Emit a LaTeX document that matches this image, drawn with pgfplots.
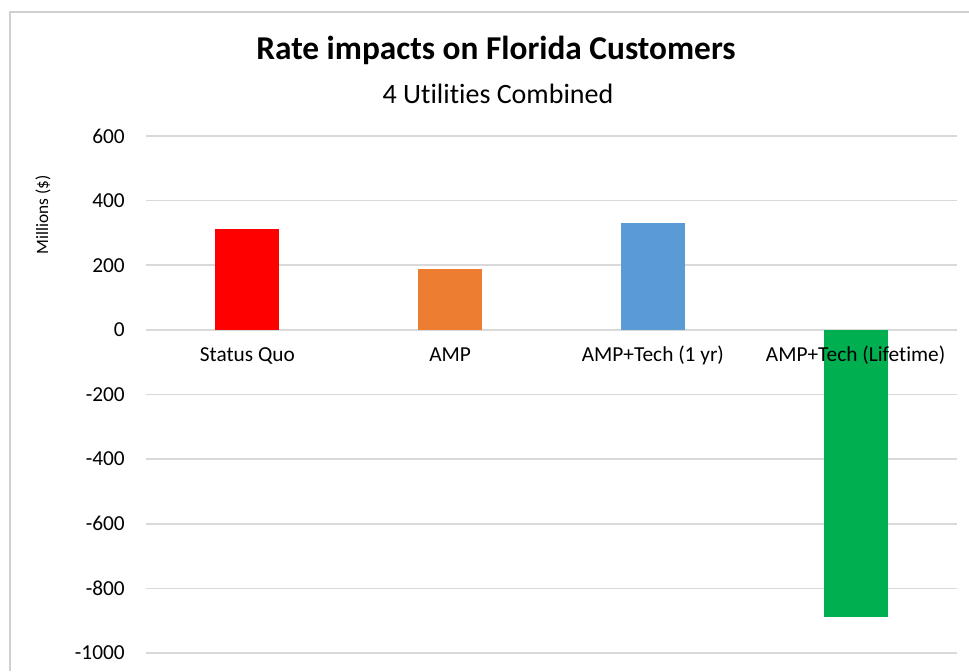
\documentclass[border=0pt]{standalone}
\usepackage{pgfplots}
\pgfplotsset{compat=1.18}
\usepackage{fontspec}
\setmainfont[RawFeature={-liga;-clig;-calt;-dlig}]{Carlito}
\definecolor{gridc}{HTML}{D9D9D9}
\definecolor{framec}{HTML}{D0D0D0}
\definecolor{cred}{HTML}{FF0000}
\definecolor{corange}{HTML}{ED7D31}
\definecolor{cblue}{HTML}{5B9BD5}
\definecolor{cgreen}{HTML}{00B050}
\def\px{0.75pt}
\begin{document}
\begin{tikzpicture}
\useasboundingbox (0,0) rectangle (969*\px,671*\px);
\fill[white] (0,0) rectangle (969*\px,671*\px);
\draw[framec, line width=1.5*\px] (10*\px,0) -- (10*\px,659*\px) -- (969*\px,659*\px);
\node[font=\fontsize{25}{30}\selectfont\bfseries] at (496*\px,621*\px) {Rate impacts on Florida Customers};
\node[font=\fontsize{21}{25}\selectfont] at (498*\px,577*\px) {4 Utilities Combined};
\node[rotate=90, font=\fontsize{13}{16}\selectfont] at (43*\px,456*\px) {Millions (\$)};
\begin{axis}[
  at={(146*\px,18*\px)}, anchor=south west,
  scale only axis, width=811*\px, height=517*\px,
  xmin=-0.5, xmax=3.5, ymin=-1000, ymax=600,
  xtick=\empty,
  ytick={-1000,-800,-600,-400,-200,0,200,400,600},
  yticklabels={-1000,-800,-600,-400,-200,0,200,400,600},
  ymajorgrids, grid style={gridc, line width=1.5*\px},
  axis line style={draw=none},
  ytick style={draw=none},
  yticklabel style={anchor=east, inner sep=0pt, xshift=-21*\px, font=\fontsize{16}{19}\selectfont},
  clip=false,
]
\addplot[ybar, bar width=64*\px, bar shift=0pt, fill=cred, draw=none] coordinates {(0,311)};
\addplot[ybar, bar width=64*\px, bar shift=0pt, fill=corange, draw=none] coordinates {(1,188)};
\addplot[ybar, bar width=64*\px, bar shift=0pt, fill=cblue, draw=none] coordinates {(2,330)};
\addplot[ybar, bar width=64*\px, bar shift=0pt, fill=cgreen, draw=none] coordinates {(3,-890)};
\foreach \i/\lab in {0/Status Quo, 1/AMP, 2/AMP+Tech (1 yr), 3/AMP+Tech (Lifetime)} {
  \edef\temp{\noexpand\node[anchor=base, yshift=-32*\px, font=\noexpand\fontsize{16}{19}\noexpand\selectfont] at (axis cs:\i,0) {\lab};}
  \temp
}
\end{axis}
\end{tikzpicture}
\end{document}
